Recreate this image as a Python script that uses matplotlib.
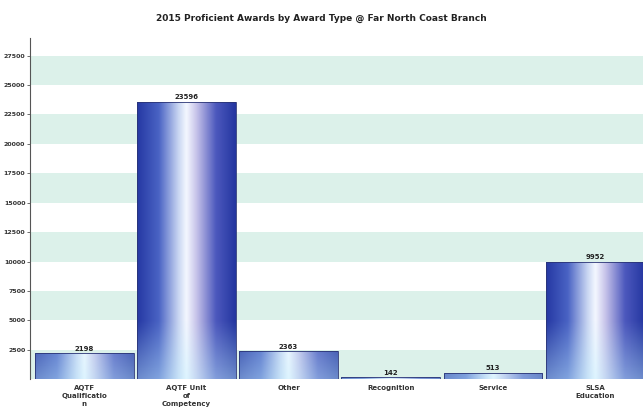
import numpy as np
import matplotlib.pyplot as plt
from matplotlib.colors import LinearSegmentedColormap

title = '2015 Proficient Awards by Award Type @ Far North Coast Branch'
categories = ['AQTF\nQualificatio\nn', 'AQTF Unit\nof\nCompetency', 'Other',
              'Recognition', 'Service', 'SLSA\nEducation']
values = [2198, 23596, 2363, 142, 513, 9952]
yticks = [2500, 5000, 7500, 10000, 12500, 15000, 17500, 20000, 22500, 25000, 27500]

fig = plt.figure(figsize=(6.43, 4.13), dpi=100)
ax = fig.add_axes([0.047, 0.082, 0.953, 0.826])
ax.set_xlim(-0.53, 5.47)
ax.set_ylim(0, 29000)

# striped background, mint band every other 2500
for lo in range(0, 29000, 5000):
    ax.axhspan(lo, lo + 2500, color='#dcf1ea', zorder=0, lw=0)

bars = ax.bar(range(len(values)), values, width=0.965, color='none',
              edgecolor='#2a3475', linewidth=0.6, zorder=3)

# horizontal blue-white-blue gradient inside each bar
cmap = LinearSegmentedColormap.from_list('barg', [
    (0.0, '#2538a3'), (0.22, '#4a63c4'), (0.42, '#c9d6f2'),
    (0.5, '#f4f8ff'), (0.6, '#c8c4ea'), (0.8, '#4c58bd'), (1.0, '#2436a0')])
grad = np.linspace(0, 1, 256).reshape(1, -1)
wash = LinearSegmentedColormap.from_list('w', ['#c4f2ff', '#c4f2ff'])
wash_alpha = np.linspace(0, 0.45, 64).reshape(-1, 1) * np.ones((1, 4))
for b in bars:
    x0, y0 = b.get_x(), b.get_y()
    w, h = b.get_width(), b.get_height()
    im = ax.imshow(grad, cmap=cmap, aspect='auto', zorder=2,
                   extent=(x0, x0 + w, y0, y0 + h), interpolation='bicubic')
    im.set_clip_path(b)
    # light cyan wash fading upward from the base
    im2 = ax.imshow(np.zeros((64, 4)), cmap=wash, alpha=wash_alpha,
                    aspect='auto', zorder=2.5, interpolation='bilinear',
                    extent=(x0, x0 + w, y0, y0 + 5000))
    im2.set_clip_path(b)
    ax.text(x0 + w / 2, y0 + h + 150, str(int(h)), ha='center', va='bottom',
            fontsize=5, fontweight='bold', color='#222222', zorder=4)

ax.set_xticks(range(len(values)))
ax.set_xticklabels(categories, fontsize=5, fontweight='bold', color='#333333',
                   linespacing=1.4)
ax.set_yticks(yticks)
ax.set_yticklabels([str(t) for t in yticks], fontsize=4.5, fontweight='bold',
                   color='#333333')
ax.tick_params(axis='x', length=0, pad=4)
ax.tick_params(axis='y', length=2, width=0.6, pad=1.5, color='#555555')
for s in ['top', 'right', 'bottom']:
    ax.spines[s].set_visible(False)
ax.spines['left'].set_color('#555555')
ax.spines['left'].set_linewidth(0.8)

fig.text(0.5, 0.955, title, ha='center', va='center', fontsize=6.5,
         fontweight='bold', color='#222222')

fig.savefig('out.png', dpi=100)
